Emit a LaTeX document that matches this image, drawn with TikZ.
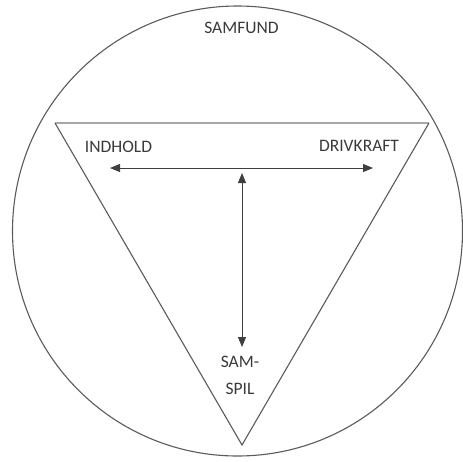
\documentclass[tikz,border=0pt]{standalone}
\usepackage{fontspec}
\setmainfont{Carlito}
\usepackage{xcolor}
\usepackage{tikz}
\usetikzlibrary{arrows.meta}

\definecolor{linegray}{HTML}{5A5A5A}
\definecolor{edgegray}{HTML}{A8A8A8}
\definecolor{textgray}{HTML}{3A3A3A}

\begin{document}
\begin{tikzpicture}[x=1pt, y=-1pt, >={Triangle[length=10pt,width=8pt]},
    lbl/.style={font=\fontsize{17.5}{27}\selectfont, text=textgray, inner sep=0pt, align=center}]
  \useasboundingbox (0,0) rectangle (463,461);
  % society around everything
  \draw[linegray, line width=1.1pt] (237.5,231) circle (225pt);
  % the triangle
  \coordinate (tl) at (55,123);
  \coordinate (tr) at (429,123);
  \coordinate (bt) at (242,445);
  \draw[edgegray, line width=1.4pt] (tl) -- (tr);
  \draw[linegray, line width=1.1pt] (tr) -- (bt) -- (tl);
  \node[lbl] (samfund) at (241.5,28) {SAMFUND};
  \node[lbl] (indhold) at (118.5,147) {INDHOLD};
  \node[lbl] (drivkraft) at (359,146) {DRIVKRAFT};
  \node[lbl, anchor=north] (samspil) at (240,356) {SAM-\\SPIL};
  % arrows
  \coordinate (hl) at (110,168);
  \coordinate (hr) at (373,168);
  \coordinate (vt) at (242,173);
  \coordinate (vb) at (242,347);
  \draw[<->, linegray!70!black, line width=1pt] (hl) -- (hr);
  \draw[<->, linegray!70!black, line width=1pt] (vt) -- (vb);
\end{tikzpicture}
\end{document}
